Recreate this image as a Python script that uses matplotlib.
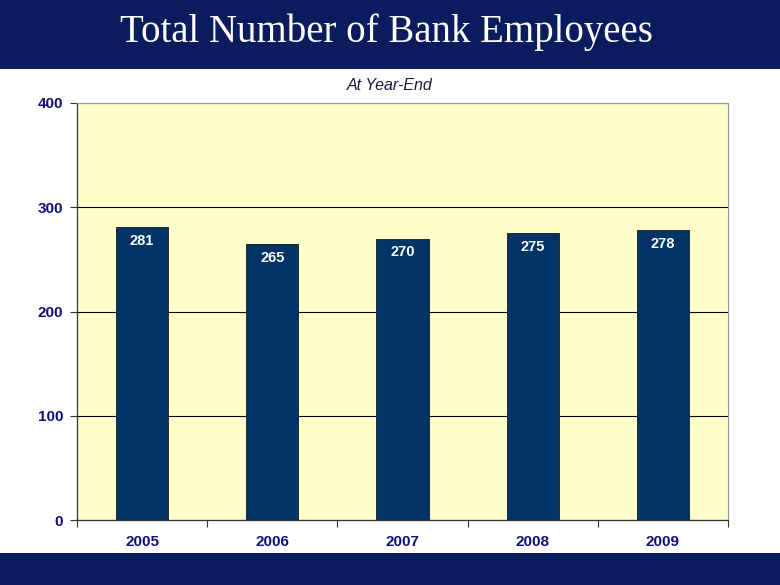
import matplotlib.pyplot as plt
from matplotlib.patches import Rectangle

years = ['2005', '2006', '2007', '2008', '2009']
employees = [281, 265, 270, 275, 278]
y_ticks = [0, 100, 200, 300, 400]

navy = '#0b1c5e'
bar_color = '#003366'
tick_color = '#10107a'

fig = plt.figure(figsize=(7.8, 5.85), dpi=100)
fig.patch.set_facecolor('white')

# header and footer bands
fig.patches.append(Rectangle((0, 1 - 69 / 585), 1, 69 / 585, transform=fig.transFigure,
                             facecolor=navy, edgecolor='none', zorder=0))
fig.patches.append(Rectangle((0, 0), 1, 32 / 585, transform=fig.transFigure,
                             facecolor=navy, edgecolor='none', zorder=0))
fig.text(0.495, 1 - 32 / 585, 'Total Number of Bank Employees', ha='center', va='center',
         color='white', fontsize=28, family='Liberation Serif')
fig.text(0.5, 1 - 85 / 585, 'At Year-End', ha='center', va='center',
         color='#1a1a40', fontsize=11.5, style='italic', family='Liberation Sans')

ax = fig.add_axes([77 / 780, 1 - 520 / 585, (728 - 77) / 780, (520 - 103) / 585])
ax.set_facecolor('#ffffcc')

x = list(range(len(years)))
ax.bar(x, employees, width=0.4, color=bar_color, edgecolor='#1a1a1a', linewidth=0.6, zorder=3)
for xi, v in zip(x, employees):
    ax.annotate(str(v), (xi, v), xytext=(0, -10), textcoords='offset points',
                ha='center', va='center', color='white', fontsize=10.5, fontweight='bold',
                family='Liberation Sans', zorder=4)

ax.set_xlim(-0.5, len(years) - 0.5)
ax.set_ylim(0, 400)
ax.set_yticks(y_ticks)
ax.set_yticklabels([str(t) for t in y_ticks], color=tick_color, fontsize=11,
                   fontweight='bold', family='Liberation Sans')
ax.yaxis.grid(True, color='black', linewidth=0.8, zorder=1)
ax.set_axisbelow(True)

ax.set_xticks([i - 0.5 for i in range(len(years) + 1)])
ax.set_xticklabels([])
ax.set_xticks(x, minor=True)
ax.set_xticklabels(years, minor=True, color=tick_color, fontsize=11,
                   fontweight='bold', family='Liberation Sans')
ax.tick_params(axis='x', which='minor', length=0, pad=11)
ax.tick_params(axis='x', which='major', length=5, direction='out', color='#333333')
ax.tick_params(axis='y', length=5, direction='out', color='#333333', pad=5)

for side in ['left', 'bottom']:
    ax.spines[side].set_color('#333333')
    ax.spines[side].set_linewidth(0.9)
for side in ['top', 'right']:
    ax.spines[side].set_color('#999999')
    ax.spines[side].set_linewidth(0.8)

fig.savefig('out.png', dpi=100)
